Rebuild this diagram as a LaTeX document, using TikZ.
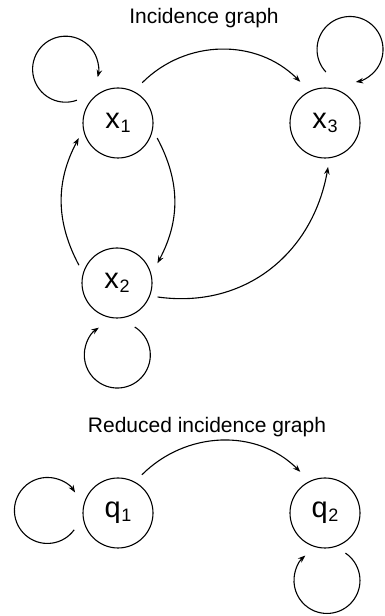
\documentclass[tikz,border=0pt]{standalone}
\usepackage{fontspec}
\setmainfont{Liberation Sans}
\usetikzlibrary{arrows.meta,calc}
\newcommand\statelabel[2]{#1\kern0.6pt\raisebox{-4pt}{\fontsize{18}{20}\selectfont #2}}
\begin{document}
\begin{tikzpicture}[x=1pt,y=1pt,
  state/.style={circle,draw,line width=1.1pt,minimum size=70pt,inner sep=0pt,
                font=\fontsize{29}{32}\selectfont},
  link/.style={line width=1.1pt,-{Stealth[length=7.5pt,width=5.5pt]}},
  heading/.style={anchor=base,font=\fontsize{21}{25}\selectfont}]
\useasboundingbox (0,0) rectangle (385,616);

% incidence graph
\node[heading] (t1) at (204,592) {Incidence graph};
\node[state] (x1) at (118,493) {\statelabel{x}{1}};
\node[state] (x3) at (325,493) {\statelabel{x}{3}};
\node[state] (x2) at (117,333) {\statelabel{x}{2}};

\draw[link] ($(x1)+(59:47pt)$) to[out=45,in=135] ($(x3)+(121:48pt)$);
\draw[link] ($(x1)+(-21:42pt)$) to[out=-62,in=62] ($(x2)+(26:45pt)$);
\draw[link] ($(x2)+(155:42pt)$) to[out=118,in=-118] ($(x1)+(201:42pt)$);
\draw[link] ($(x2)+(-19:43pt)$) to[out=-8,in=-100,looseness=1.05] ($(x3)+(-86:44pt)$);

% self loops
\draw[link] ($(x1)+(151:47pt)$) arc[start angle=-70,end angle=-374,radius=33pt];
\draw[link] ($(x3)+(89:51pt)$) arc[start angle=223,end angle=-80,radius=33pt];
\draw[link] ($(x2)+(-68:47.5pt)$) arc[start angle=58,end angle=-236,radius=33pt];

% reduced incidence graph
\node[heading] (t2) at (207,183) {Reduced incidence graph};
\node[state] (q1) at (118,103) {\statelabel{q}{1}};
\node[state] (q2) at (325,103) {\statelabel{q}{2}};

\draw[link] ($(q1)+(58:45pt)$) to[out=45,in=135] ($(q2)+(121:48pt)$);
\draw[link] ($(q1)+(201:47pt)$) arc[start angle=-36,end angle=-327,radius=33pt];
\draw[link] ($(q2)+(-63:45pt)$) arc[start angle=56,end angle=-229,radius=33pt];
\end{tikzpicture}
\end{document}
